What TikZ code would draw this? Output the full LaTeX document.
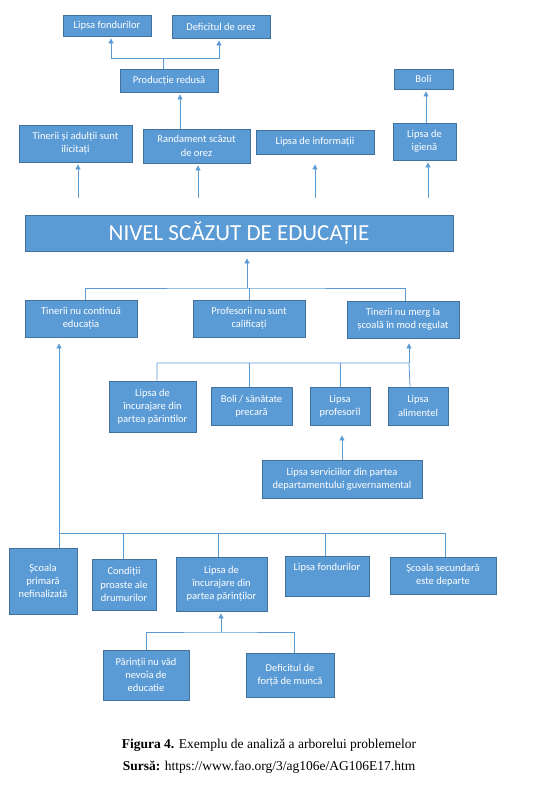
\documentclass[tikz,border=0pt]{standalone}
\usepackage{fontspec}
\usepackage{xcolor}
\usetikzlibrary{arrows.meta, positioning}
\newfontfamily\boxfont{Carlito}
\setmainfont{Liberation Serif}
\definecolor{boxblue}{HTML}{5B9BD5}
\definecolor{boxedge}{HTML}{41719C}

\begin{document}
\begin{tikzpicture}[
    x=1pt, y=-1pt,
    every node/.style={font=\boxfont\fontsize{10.5}{13.3}\selectfont},
    box/.style={rectangle, draw=boxedge, line width=0.8pt, fill=boxblue, text=white,
                align=center, inner sep=1pt},
    link/.style={draw=boxblue, line width=0.8pt},
    arrow/.style={link, -{Triangle[width=5pt,length=5pt]}, shorten >=2pt}
  ]
  \useasboundingbox (0,0) rectangle (549,790);

  % effects
  \node[box, minimum width=88pt, minimum height=21pt] (lfondA) at (107,25.5) {Lipsa fondurilor};
  \node[box, minimum width=98pt, minimum height=23pt] (deforez) at (221,26.5) {Deficitul de orez};
  \node[box, minimum width=98pt, minimum height=23pt] (prod) at (169,80.5) {Producție redusă};
  \node[box, minimum width=59pt, minimum height=20pt] (boliA) at (423.5,79) {Boli};
  \node[box, minimum width=113pt, minimum height=37pt] (tinad) at (75.5,143.5) {Tinerii și adulții sunt\\ilicitați};
  \node[box, minimum width=107pt, minimum height=34pt] (rand) at (196.5,146) {Randament scăzut\\de orez};
  \node[box, minimum width=118pt, minimum height=24pt] (info) at (315,142) {Lipsa de informații};
  \node[box, minimum width=63pt, minimum height=37pt] (igiena) at (424.5,141.5) {Lipsa de\\igienă};

  % core problem
  \node[box, minimum width=428pt, minimum height=36pt, font=\boxfont\fontsize{23}{26}\selectfont]
    (nivel) at (239,233) {NIVEL SCĂZUT DE EDUCAȚIE};

  % causes
  \node[box, minimum width=112pt, minimum height=37pt] (tnc) at (81,318.5) {Tinerii nu continuă\\educația};
  \node[box, minimum width=112pt, minimum height=37pt] (prof) at (249,318.5) {Profesorii nu sunt\\calificați};
  \node[box, minimum width=112pt, minimum height=37pt] (tnm) at (403,319.5) {Tinerii nu merg la\\școală în mod regulat};

  \node[box, minimum width=87pt, minimum height=51pt] (lincA) at (152.5,406.5) {Lipsa de\\încurajare din\\partea părintilor};
  \node[box, minimum width=81pt, minimum height=38pt] (boliB) at (251.5,406) {Boli / sănătate\\precară};
  \node[box, minimum width=60pt, minimum height=38pt] (lprof) at (340,406) {Lipsa\\profesoril};
  \node[box, minimum width=60pt, minimum height=38pt] (lalim) at (418,406) {Lipsa\\alimentel};
  \node[box, minimum width=160pt, minimum height=38pt] (lserv) at (342,479) {Lipsa serviciilor din partea\\departamentului guvernamental};

  \node[box, minimum width=68pt, minimum height=66pt] (scp) at (43,581) {Școala\\primară\\nefinalizată};
  \node[box, minimum width=64pt, minimum height=51pt] (cond) at (124,584.5) {Condiții\\proaste ale\\drumurilor};
  \node[box, minimum width=91pt, minimum height=54pt] (lincB) at (221.5,584) {Lipsa de\\încurajare din\\partea părinților};
  \node[box, minimum width=84pt, minimum height=40pt, text depth=18pt] (lfondB) at (327,576) {Lipsa fondurilor};
  \node[box, minimum width=106pt, minimum height=37pt] (ssd) at (443,575.5) {Școala secundară\\este departe};

  \node[box, minimum width=86pt, minimum height=50pt] (pnv) at (146,675) {Părinții nu văd\\nevoia de\\educatie};
  \node[box, minimum width=88pt, minimum height=44pt] (dfm) at (290,675) {Deficitul de\\forță de muncă};

  % caption
  \node[font=\rmfamily\fontsize{13.5}{16}\selectfont] (fig) at (269,745)
    {\textbf{Figura 4.} Exemplu de analiză a arborelui problemelor};
  \node[font=\rmfamily\fontsize{13.5}{16}\selectfont] (src) at (269,767)
    {\textbf{Sursă:} https://www.fao.org/3/ag106e/AG106E17.htm};

  % junctions and free ends
  \coordinate (jtop) at (163,58);
  \coordinate (jcore) at (247,288);
  \coordinate (jmid) at (409,363);
  \coordinate (jlow) at (59,533);
  \coordinate (jbot) at (221,632);
  \coordinate (eA) at (78,198);
  \coordinate (eB) at (198,198);
  \coordinate (eC) at (315,198);
  \coordinate (eD) at (428,198);

  % top of the tree
  \draw[link] ([xshift=-6pt]prod.north) -- (jtop);
  \draw[arrow] (jtop) -| ([xshift=4pt]lfondA.south);
  \draw[arrow] (jtop) -| ([xshift=-2pt]deforez.south);
  \draw[arrow] ([xshift=-16.5pt]rand.north) -- ([xshift=11pt]prod.south);
  \draw[arrow] ([xshift=1.5pt]igiena.north) -- ([xshift=2.5pt]boliA.south);
  \draw[arrow] (eA) -- (eA |- tinad.south);
  \draw[arrow] (eB) -- (eB |- rand.south);
  \draw[arrow, shorten >=10pt] (eC) -- (eC |- info.south);
  \draw[arrow] (eD) -- (eD |- igiena.south);

  % into the core problem
  \draw[arrow, shorten >=7pt] (jcore) -- (jcore |- nivel.south);
  \draw[link] ([xshift=4pt]tnc.north) |- (jcore) -| ([xshift=2pt]tnm.north);
  \draw[link] (prof.north) -- (prof.north |- jcore);

  % second level
  \draw[arrow, shorten >=5pt] (jmid) -- (jmid |- tnm.south);
  \draw[link] ([xshift=4.5pt]lincA.north) |- (jmid) -- ([xshift=-8pt]lalim.north);
  \draw[link] ([xshift=-2.5pt]boliB.north) -- ([xshift=-2.5pt]boliB.north |- jmid);
  \draw[link] (lprof.north) -- (lprof.north |- jmid);
  \draw[arrow, shorten >=10pt] (lserv.north) -- (lserv.north |- lprof.south);

  \draw[arrow, shorten >=6pt] ([xshift=16pt]scp.north) -- ([xshift=-22pt]tnc.south);
  \draw[link] (jlow) -| ([xshift=2pt]ssd.north);
  \foreach \n/\dx in {cond/-1, lincB/-3.5, lfondB/-2} {
    \draw[link] ([xshift=\dx pt]\n.north) -- ([xshift=\dx pt]\n.north |- jlow);
  }

  % bottom level
  \draw[arrow] (jbot) -- (jbot |- lincB.south);
  \draw[link] (pnv.north) |- (jbot) -| ([xshift=4pt]dfm.north);

\end{tikzpicture}
\end{document}
